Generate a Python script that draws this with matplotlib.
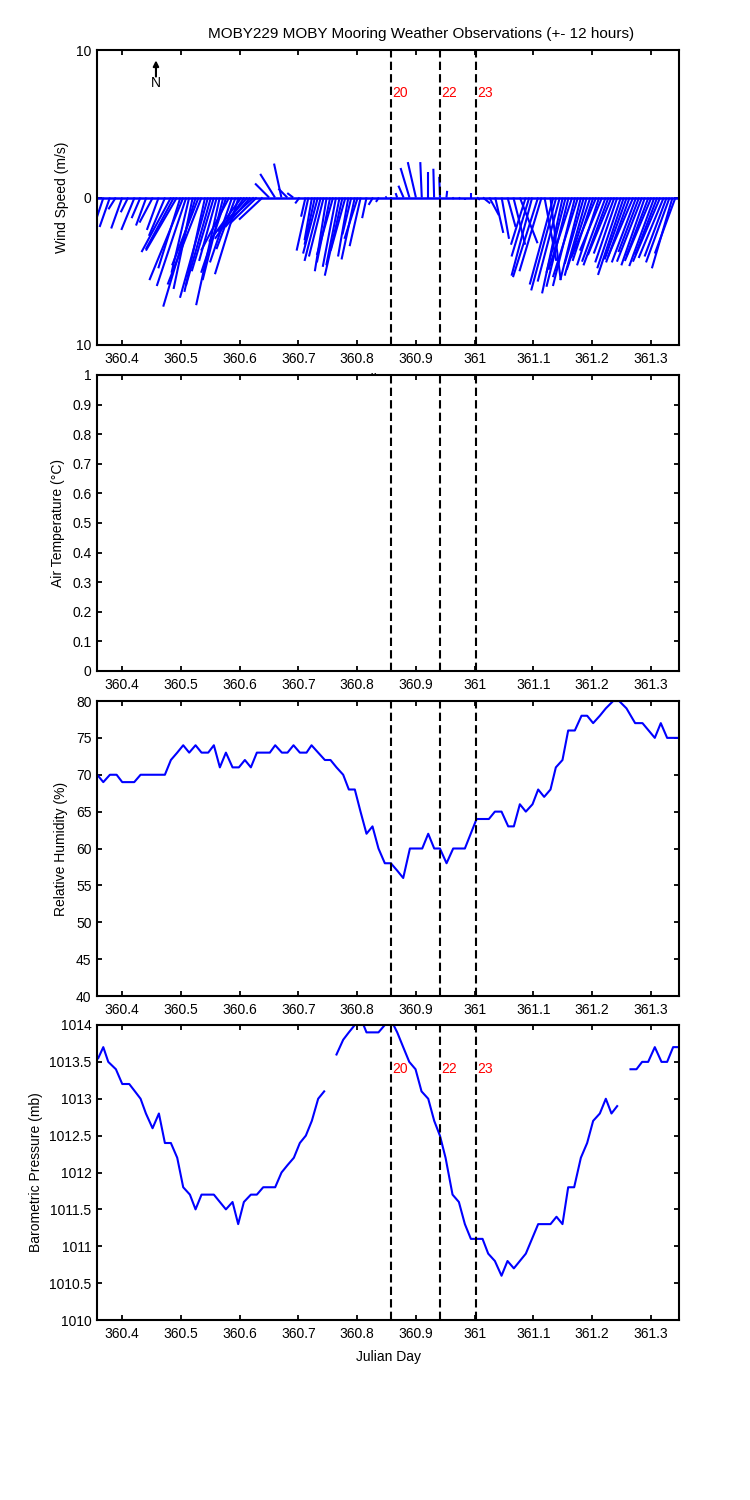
import numpy as np
import matplotlib
matplotlib.use("Agg")
import matplotlib.pyplot as plt
from matplotlib.collections import LineCollection

plt.rcParams['font.family'] = ['Liberation Sans', 'DejaVu Sans']
plt.rcParams['font.size'] = 10

# ---------------- data ----------------
title = "MOBY229 MOBY Mooring Weather Observations (+- 12 hours)"
xlim = (360.357, 361.348)
xticks = [360.4, 360.5, 360.6, 360.7, 360.8, 360.9, 361.0, 361.1, 361.2, 361.3]
xticklabels = ['360.4', '360.5', '360.6', '360.7', '360.8', '360.9', '361', '361.1', '361.2', '361.3']

event_days = [360.858, 360.941, 361.002]
event_labels = ['20', '22', '23']

# wind sticks (m/s)
wind_t = [360.358, 360.368, 360.379, 360.389, 360.400, 360.410, 360.421, 360.431, 360.441, 360.452,
          360.462, 360.473, 360.483, 360.493, 360.504, 360.514, 360.525, 360.535, 360.546, 360.556,
          360.566, 360.577, 360.587, 360.598, 360.608, 360.618, 360.629, 360.639, 360.650, 360.660,
          360.671, 360.681, 360.691, 360.702, 360.712, 360.723, 360.733, 360.743, 360.754, 360.764,
          360.775, 360.785, 360.796, 360.806, 360.816, 360.827, 360.837, 360.848, 360.858, 360.868,
          360.879, 360.889, 360.900, 360.910, 360.921, 360.931, 360.941, 360.952, 360.962, 360.973,
          360.983, 360.994, 361.004, 361.014, 361.025, 361.035, 361.046, 361.056, 361.066, 361.077,
          361.087, 361.098, 361.108, 361.119, 361.129, 361.139, 361.150, 361.160, 361.171, 361.181,
          361.191, 361.202, 361.212, 361.223, 361.233, 361.243, 361.254, 361.264, 361.275, 361.285,
          361.296, 361.306, 361.316, 361.327, 361.337,
          360.488, 360.499, 360.509, 360.520, 360.530, 360.541, 360.551, 360.561, 360.572, 360.582,
          360.593, 360.603, 360.613, 360.624,
          360.717, 360.728, 360.738, 360.748, 360.759, 360.770, 360.780, 360.790, 360.801,
          361.093, 361.114, 361.134, 361.145, 361.155, 361.166, 361.176, 361.186, 361.197, 361.207,
          361.217, 361.228, 361.238, 361.249, 361.259, 361.270, 361.280, 361.290, 361.301, 361.311,
          361.322, 361.332, 361.342]
wind_u = [-0.6, -0.7, -0.7, -0.5, -0.75, -0.5, -0.9, -0.6, -0.7, -0.9,
          -0.8, -1.1, -2.0, -2.1, -2.3, -1.2, -2.2, -2.3, -1.9, -1.5,
          -1.6, -1.7, -1.5, -1.6, -2.0, -1.7, -1.8, -1.6, -0.95, -1.0,
          -0.5, -0.6, -0.4, -0.3, -0.3, -0.5, -1.0, -1.0, -0.9, -0.9,
          -1.2, -0.7, -0.9, -0.75, -0.3, -0.3, -0.2, 0.1, 0.0, -0.1,
          -0.35, -0.6, -0.55, -0.1, 0.0, -0.05, -0.05, 0.05, 0.1, 0.1,
          0.0, 0.0, 0.2, 0.5, 0.65, 0.55, 0.5, 0.55, 0.8, 1.2,
          -1.0, -1.4, -1.7, 0.8, 0.7, -1.7, -1.4, -1.5, -1.5, -1.4,
          -1.5, -1.4, -1.5, -1.6, -1.6, -1.5, -1.75, -1.6, -1.65, -1.7,
          -1.5, -1.7, -1.85, -1.5, -1.4,
          -1.9, -1.5, -2.0, -1.3, -1.8, -1.4, -1.7, -1.2, -1.4, -1.9,
          -1.3, -2.2, -2.0, -2.1,
          -0.8, -0.7, -1.1, -0.8, -1.1, -0.9, -1.0, -0.6, -0.9,
          -1.2, -1.5, -1.6, -1.5, -1.3, -1.6, -1.7, -1.3, -1.6, -1.7,
          -1.5, -1.7, -1.4, -1.6, -1.5, -1.7, -1.4, -1.6, -1.8, -1.5,
          -1.7, -1.6, -1.4]
wind_v = [-2.0, -2.1, -2.0, -0.8, -2.1, -1.0, -2.2, -1.4, -1.9, -1.7,
          -2.2, -2.6, -3.7, -3.6, -5.6, -5.1, -7.4, -5.9, -6.8, -5.0,
          -7.3, -5.1, -4.4, -5.2, -2.8, -2.0, -1.75, -1.5, 0.95, 1.6,
          2.3, 0.6, 0.3, -0.4, -1.3, -2.9, -3.8, -4.0, -4.4, -4.7,
          -5.3, -4.0, -4.2, -3.3, -1.4, -0.5, -0.3, 0.05, 0.05, 0.3,
          0.8, 2.0, 2.4, 2.4, 1.75, 1.95, 1.4, 0.45, -0.1, -0.1,
          -0.2, 0.3, -0.15, -0.4, -1.2, -2.4, -2.8, -2.0, -3.2, -3.1,
          -3.2, -5.3, -5.4, -4.3, -5.6, -6.3, -6.5, -6.05, -6.0, -5.6,
          -5.3, -4.3, -4.6, -4.35, -3.9, -4.4, -5.25, -4.4, -4.4, -4.35,
          -4.0, -4.65, -4.35, -4.0, -4.8,
          -3.5, -4.8, -6.0, -6.2, -4.6, -6.4, -6.0, -4.3, -5.6, -3.6,
          -3.5, -3.0, -2.3, -1.9,
          -3.6, -3.2, -4.3, -5.0, -3.9, -4.6, -3.6, -2.5, -2.8,
          -4.0, -5.0, -5.9, -5.7, -5.1, -4.9, -5.4, -4.5, -4.9, -4.1,
          -3.6, -4.6, -3.8, -4.8, -4.2, -4.0, -3.7, -4.6, -4.3, -3.9,
          -4.1, -4.4, -3.8]

# relative humidity (%)
rh_t = [360.3574, 360.3677, 360.3790, 360.3904, 360.4000, 360.4204, 360.4312, 360.4726, 360.4828, 360.4936,
        360.5038, 360.5140, 360.5248, 360.5350, 360.5464, 360.5560, 360.5662, 360.5765, 360.5878, 360.5986,
        360.6088, 360.6190, 360.6292, 360.6513, 360.6604, 360.6718, 360.6814, 360.6916, 360.7024, 360.7138,
        360.7223, 360.7336, 360.7450, 360.7546, 360.7648, 360.7762, 360.7858, 360.7960, 360.8057, 360.8159,
        360.8261, 360.8363, 360.8471, 360.8574, 360.8682, 360.8784, 360.8898, 360.9108, 360.9210, 360.9312,
        360.9409, 360.9522, 360.9635, 360.9834, 361.0033, 361.0243, 361.0345, 361.0458, 361.0572, 361.0668,
        361.0770, 361.0872, 361.0986, 361.1082, 361.1184, 361.1292, 361.1383, 361.1496, 361.1593, 361.1706,
        361.1820, 361.1916, 361.2018, 361.2132, 361.2234, 361.2359, 361.2461, 361.2586, 361.2733, 361.2858,
        361.3068, 361.3170, 361.3278, 361.3454]
rh_v = [70, 69, 70, 70, 69, 69, 70, 70, 72, 73,
        74, 73, 74, 73, 73, 74, 71, 73, 71, 71,
        72, 71, 73, 73, 74, 73, 73, 74, 73, 73,
        74, 73, 72, 72, 71, 70, 68, 68, 65, 62,
        63, 60, 58, 58, 57, 56, 60, 60, 62, 60,
        60, 58, 60, 60, 64, 64, 65, 65, 63, 63,
        66, 65, 66, 68, 67, 68, 71, 72, 76, 76,
        78, 78, 77, 78, 79, 80, 80, 79, 77, 77,
        75, 77, 75, 75]

# barometric pressure (mb); NaN = missing
bp_t = [360.3591, 360.3677, 360.3762, 360.3892, 360.4000, 360.4119, 360.4216, 360.4312, 360.4403, 360.4516,
        360.4624, 360.4726, 360.4828, 360.4936, 360.5038, 360.5152, 360.5248, 360.5350, 360.5560, 360.5662,
        360.5765, 360.5878, 360.5974, 360.6071, 360.6190, 360.6292, 360.6400, 360.6604, 360.6712, 360.6814,
        360.6922, 360.7024, 360.7126, 360.7228, 360.7336, 360.7438, 360.7540, 360.7648, 360.7762, 360.7858,
        360.7960, 360.8057, 360.8159, 360.8363, 360.8471, 360.8557, 360.8682, 360.8784, 360.8887, 360.8994,
        360.9096, 360.9210, 360.9312, 360.9409, 360.9505, 360.9624, 360.9732, 360.9834, 360.9936, 361.0135,
        361.0231, 361.0345, 361.0458, 361.0560, 361.0668, 361.0872, 361.1082, 361.1292, 361.1394, 361.1496,
        361.1593, 361.1695, 361.1809, 361.1916, 361.2018, 361.2132, 361.2234, 361.2330, 361.2427, 361.2540,
        361.2654, 361.2756, 361.2852, 361.2955, 361.3068, 361.3182, 361.3278, 361.3380, 361.3454]
bp_v = [1013.55, 1013.7, 1013.5, 1013.4, 1013.2, 1013.2, 1013.1, 1013.0, 1012.8, 1012.6,
        1012.8, 1012.4, 1012.4, 1012.2, 1011.8, 1011.7, 1011.5, 1011.7, 1011.7, 1011.6,
        1011.5, 1011.6, 1011.3, 1011.6, 1011.7, 1011.7, 1011.8, 1011.8, 1012.0, 1012.1,
        1012.2, 1012.4, 1012.5, 1012.7, 1013.0, 1013.1, np.nan, 1013.6, 1013.8, 1013.9,
        1014.0, 1014.1, 1013.9, 1013.9, 1014.0, 1014.1, 1013.9, 1013.7, 1013.5, 1013.4,
        1013.1, 1013.0, 1012.7, 1012.5, 1012.2, 1011.7, 1011.6, 1011.3, 1011.1, 1011.1,
        1010.9, 1010.8, 1010.6, 1010.8, 1010.7, 1010.9, 1011.3, 1011.3, 1011.4, 1011.3,
        1011.8, 1011.8, 1012.2, 1012.4, 1012.7, 1012.8, 1013.0, 1012.8, 1012.9, np.nan,
        1013.4, 1013.4, 1013.5, 1013.5, 1013.7, 1013.5, 1013.5, 1013.7, 1013.7]

# ---------------- figure ----------------
W, H = 750, 1500
fig = plt.figure(figsize=(W / 100, H / 100), dpi=100)
fig.patch.set_facecolor('white')

left = 97 / W
width = (679 - 97) / W
panels_px = [(50, 345), (375, 671), (701, 996), (1025, 1320)]
axes = []
for top, bot in panels_px:
    ax = fig.add_axes([left, 1 - bot / H, width, (bot - top) / H])
    ax.set_facecolor('white')
    axes.append(ax)

blue = (0, 0, 1)
for ax in axes:
    ax.set_xlim(*xlim)
    ax.set_xticks(xticks)
    ax.set_xticklabels(xticklabels)
    ax.tick_params(direction='in', length=3.6, width=1.3, top=True, right=True,
                   labelsize=10, colors='black')
    ax.tick_params(axis='x', pad=5)
    ax.tick_params(axis='y', pad=4)
    for s in ax.spines.values():
        s.set_linewidth(1.5)
    for d in event_days:
        ax.axvline(d, color='black', lw=1.5, ls=(0, (4, 2)), zorder=3)

# Panel 1: wind sticks
ax1 = axes[0]
ax1.set_ylim(-10, 10)
ax1.set_yticks([-10, 0, 10])
ax1.set_yticklabels(['10', '0', '10'])
ax1.set_ylabel('Wind Speed (m/s)')
ax1.yaxis.set_label_coords(-0.048, 0.5)
ax1.set_xlabel('Julian Day')
ax1.xaxis.set_label_coords(0.5, -0.096)
px_per_day = ax1.bbox.width / (xlim[1] - xlim[0])
px_per_ms = ax1.bbox.height / 20.0
k = px_per_ms / px_per_day
segs = [[(t, 0.0), (t + u * k, v)] for t, u, v in zip(wind_t, wind_u, wind_v)]
ax1.add_collection(LineCollection(segs, colors=[blue], linewidths=1.5, zorder=2))
ax1.axhline(0, color=blue, lw=1.8, zorder=2)
ax1.annotate('', xy=(360.4574, 9.3), xytext=(360.4574, 8.2),
             arrowprops=dict(arrowstyle='-|>', color='black', lw=1.5, mutation_scale=8,
                             shrinkA=0, shrinkB=0))
ax1.text(360.4574, 7.75, 'N', ha='center', va='center', fontsize=10)
for d, lab in zip(event_days, event_labels):
    ax1.annotate(lab, xy=(d, 7.1), xytext=(1, 0), textcoords='offset points',
                 color='red', ha='left', va='center', fontsize=10)

# Panel 2: air temperature (no data)
ax2 = axes[1]
ax2.set_ylim(0, 1)
yt2 = [0, 0.1, 0.2, 0.3, 0.4, 0.5, 0.6, 0.7, 0.8, 0.9, 1.0]
ax2.set_yticks(yt2)
ax2.set_yticklabels(['0', '0.1', '0.2', '0.3', '0.4', '0.5', '0.6', '0.7', '0.8', '0.9', '1'])
ax2.set_ylabel('Air Temperature (\u00b0C)')
ax2.yaxis.set_label_coords(-0.055, 0.5)

# Panel 3: relative humidity
ax3 = axes[2]
ax3.plot(rh_t, rh_v, color=blue, lw=1.5)
ax3.set_ylim(40, 80)
ax3.set_yticks([40, 45, 50, 55, 60, 65, 70, 75, 80])
ax3.set_ylabel('Relative Humidity (%)')
ax3.yaxis.set_label_coords(-0.050, 0.5)

# Panel 4: barometric pressure
ax4 = axes[3]
ax4.plot(bp_t, bp_v, color=blue, lw=1.5)
ax4.set_ylim(1010, 1014)
yt4 = [1010, 1010.5, 1011, 1011.5, 1012, 1012.5, 1013, 1013.5, 1014]
ax4.set_yticks(yt4)
ax4.set_yticklabels(['1010', '1010.5', '1011', '1011.5', '1012', '1012.5', '1013', '1013.5', '1014'])
ax4.set_ylabel('Barometric Pressure (mb)')
ax4.yaxis.set_label_coords(-0.092, 0.5)
ax4.set_xlabel('Julian Day')
ax4.xaxis.set_label_coords(0.5, -0.1)
for d, lab in zip(event_days, event_labels):
    ax4.annotate(lab, xy=(d, 1013.4), xytext=(1, 0), textcoords='offset points',
                 color='red', ha='left', va='center', fontsize=10)

fig.text(421.5 / W, 1 - 34 / H, title, ha='center', va='center', fontsize=11)

fig.savefig('out.png', dpi=100, facecolor='white')
